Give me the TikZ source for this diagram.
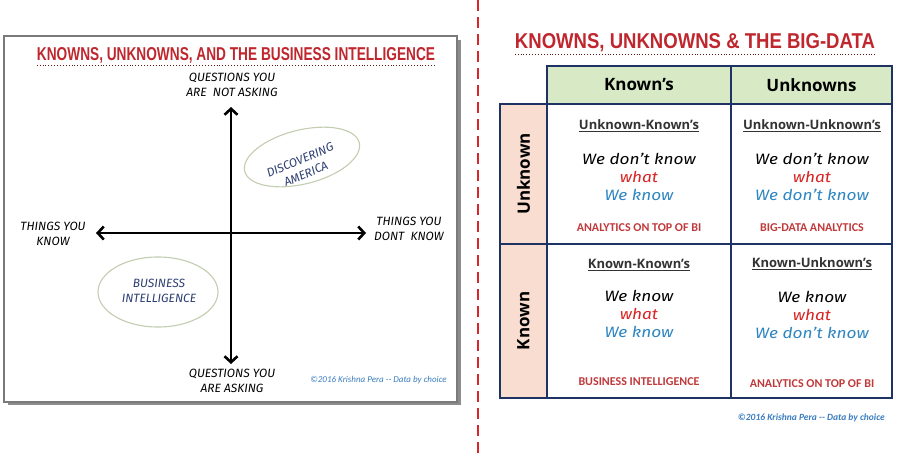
\documentclass[tikz,border=0pt]{standalone}
\usepackage{fontspec}
\usepackage{graphicx}
\usetikzlibrary{arrows.meta,positioning,shapes.geometric}
\setmainfont{Open Sans}
\newfontfamily\titlefont{Liberation Sans}
\newfontfamily\comicfont{Fira Sans}
\newfontfamily\handfont[FakeStretch=1.15]{Fira Sans}
\newfontfamily\calfont{Carlito}
\definecolor{titlered}{HTML}{C0262D}
\definecolor{gridnavy}{HTML}{1F3264}
\definecolor{headgreen}{HTML}{D7E9C5}
\definecolor{sidepeach}{HTML}{F8DDD0}
\definecolor{tagred}{HTML}{C0393B}
\definecolor{whatred}{HTML}{D92323}
\definecolor{knowblue}{HTML}{2E86C1}
\definecolor{blobline}{HTML}{C3CDB0}
\definecolor{blobtext}{HTML}{2C3E72}
\definecolor{creditblue}{HTML}{3B7DC0}
\definecolor{splitred}{HTML}{D9262B}
\definecolor{framegray}{HTML}{7A7A7A}
\tikzset{
  quadaxis/.style={line width=2.6pt,
    {Straight Barb[length=6pt,width=13pt]}-{Straight Barb[length=6pt,width=13pt]}},
  axislabel/.style={font=\comicfont\itshape\fontsize{12}{15.5}\selectfont,
    align=center, inner sep=0pt},
  blob/.style={ellipse, draw=blobline, line width=1.1pt, inner sep=0pt},
  blobtext/.style={font=\comicfont\itshape\fontsize{12}{15}\selectfont,
    text=blobtext, align=center, inner sep=0pt},
  credit/.style={font=\calfont\itshape\fontsize{9}{11}\selectfont,
    text=creditblue, inner sep=0pt},
  bigtitle/.style={font=\titlefont\bfseries, text=titlered, inner sep=0pt, anchor=base},
  titleline/.style={dotted, line width=0.9pt, titlered!50!black},
  gridcell/.style={draw=gridnavy, line width=2pt, inner sep=0pt, outer sep=0pt},
  headcell/.style={gridcell, fill=headgreen, minimum height=38pt,
    font=\bfseries\fontsize{17}{19}\selectfont},
  sidecell/.style={gridcell, fill=sidepeach, minimum width=47pt},
  sidetext/.style={rotate=90, font=\bfseries\fontsize{17}{19}\selectfont, inner sep=0pt},
  celltitle/.style={font=\bfseries\fontsize{13}{15}\selectfont, text=black!80, inner sep=0pt},
  handline/.style={font=\handfont\itshape\fontsize{15}{18}\selectfont, inner sep=0pt},
  celltag/.style={font=\calfont\bfseries\fontsize{12}{14}\selectfont, text=tagred, inner sep=0pt},
}

\begin{document}
\begin{tikzpicture}[x=1pt, y=-1pt]
    \useasboundingbox[fill=white] (0,0) rectangle (900,453);

    % left panel
    \fill[black!45] (8,40) rectangle (461,405);
    \draw[framegray, line width=1.2pt, fill=white] (4,36) rectangle (457,402);
    \node[bigtitle] (ltitle) at (236,60)
      {\resizebox{398pt}{13pt}{KNOWNS, UNKNOWNS, AND THE BUSINESS INTELLIGENCE}};
    \draw[titleline] ([yshift=-2.5pt]ltitle.south west) -- ([yshift=-2.5pt]ltitle.south east);

    \coordinate (qtop) at (231,107);
    \coordinate (qbot) at (231,364);
    \coordinate (qleft) at (96,233);
    \coordinate (qright) at (366,233);
    \draw[quadaxis] (qbot) -- (qtop);
    \draw[quadaxis] (qleft) -- (qright);

    \node[axislabel] (notasking) at (232,85) {QUESTIONS YOU\\ARE\ \ NOT ASKING};
    \node[axislabel] (asking) at (232,381) {QUESTIONS YOU\\ARE ASKING};
    \node[axislabel] (know) at (53,234) {THINGS YOU\\KNOW};
    \node[axislabel] (dontknow) at (409,229) {THINGS YOU\\DONT\ \ KNOW};

    \node[blob, minimum width=118pt, minimum height=54pt, rotate=14] (discover) at (302,157) {};
    \node[blobtext, rotate=23] (discovertext) at (303,167) {DISCOVERING\\AMERICA};
    \node[blob, minimum width=120pt, minimum height=70pt] (bi) at (158,292) {};
    \node[blobtext] (bitext) at (159,291) {BUSINESS\\INTELLIGENCE};

    \node[credit, anchor=east] (lcredit) at (447,380) {\textcopyright2016 Krishna Pera -- Data by choice};

    % split
    \coordinate (splittop) at (478,0);
    \coordinate (splitbot) at (478,453);
    \draw[splitred, line width=2.8pt, dash pattern=on 11pt off 6pt] (splittop) -- (splitbot);

    % right panel
    \node[bigtitle] (rtitle) at (695,48)
      {\resizebox{360pt}{15pt}{KNOWNS, UNKNOWNS \& THE BIG-DATA}};
    \draw[titleline] ([yshift=-3pt]rtitle.south west) -- ([yshift=-3pt]rtitle.south east);

    \node[headcell, minimum width=184pt] (hknown) at (639,85) {Known’s};
    \node[headcell, minimum width=161pt] (hunknown) at (811.5,85) {Unknowns};
    \node[sidecell, minimum height=140pt] (sunknown) at (523.5,174) {};
    \node[sidecell, minimum height=154pt] (sknown) at (523.5,321) {};
    \node[sidetext] at (sunknown) {Unknown};
    \node[sidetext] at (sknown) {Known};

    \node[gridcell, minimum width=184pt, minimum height=140pt] (uk) at (639,174) {};
    \node[gridcell, minimum width=161pt, minimum height=140pt] (uu) at (811.5,174) {};
    \node[gridcell, minimum width=184pt, minimum height=154pt] (kk) at (639,321) {};
    \node[gridcell, minimum width=161pt, minimum height=154pt] (ku) at (811.5,321) {};

    \node[celltitle] (uktitle) at (639,126) {\underline{Unknown-Known’s}};
    \node[handline] (uk1) at (639,159) {We don’t know};
    \node[handline, text=whatred] (uk2) at (639,177) {what};
    \node[handline, text=knowblue] (uk3) at (639,195) {We know};
    \node[celltag] (uktag) at (639,228) {ANALYTICS ON TOP OF BI};

    \node[celltitle] (uutitle) at (812,126) {\underline{Unknown-Unknown’s}};
    \node[handline] (uu1) at (812,159) {We don’t know};
    \node[handline, text=whatred] (uu2) at (812,177) {what};
    \node[handline, text=knowblue] (uu3) at (812,195) {We don’t know};
    \node[celltag] (uutag) at (812,228) {BIG-DATA ANALYTICS};

    \node[celltitle] (kktitle) at (639,265) {\underline{Known-Known’s}};
    \node[handline] (kk1) at (639,296) {We know};
    \node[handline, text=whatred] (kk2) at (639,314) {what};
    \node[handline, text=knowblue] (kk3) at (639,332) {We know};
    \node[celltag] (kktag) at (639,382) {BUSINESS INTELLIGENCE};

    \node[celltitle] (kutitle) at (812,264) {\underline{Known-Unknown’s}};
    \node[handline] (ku1) at (812,297) {We know};
    \node[handline, text=whatred] (ku2) at (812,315) {what};
    \node[handline, text=knowblue] (ku3) at (812,333) {We don’t know};
    \node[celltag] (kutag) at (812,384) {ANALYTICS ON TOP OF BI};

    \node[credit, font=\calfont\bfseries\itshape\fontsize{9.5}{11}\selectfont, anchor=east]
      (rcredit) at (885,418) {\textcopyright2016 Krishna Pera -- Data by choice};
  \end{tikzpicture}
\end{document}
